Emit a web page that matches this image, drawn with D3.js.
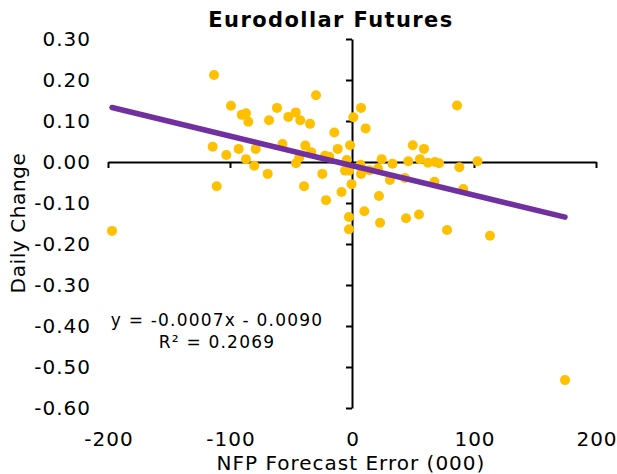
<!DOCTYPE html>
<html>
<head>
<meta charset="utf-8">
<script src="https://cdn.jsdelivr.net/npm/d3@7"></script>
<style>
  body { margin: 0; background: #fff; }
  text { font-family: "DejaVu Sans", Verdana, sans-serif; fill: #000; }
</style>
</head>
<body>
<script>
// NFP forecast error (000) vs daily change in Eurodollar futures
var forecastError = [-196.7, -113.1, -114.2, -110.9, -99.2, -103.0, -92.9, -90.4, -86.9, -85.0,
    -86.9, -78.9, -80.1, -69.1, -68.0, -61.5, -57.0, -52.2, -46.1, -42.4,
    -34.4, -29.5, -38.3, -33.4, -43.2, -45.9, -22.1, -18.6, -14.5, -11.7,
    -1.6, -4.3, -5.7, -2.5, -24.3, -39.3, -21.3, -8.6, -0.4, -2.5,
    -2.5, 1.1, 7.4, 11.2, 7.0, 7.4, 14.3, 21.3, 24.3, 33.2,
    31.1, 43.4, 46.1, 49.8, 59.0, 55.7, 62.3, 68.0, 71.3, 67.6,
    10.1, 22.1, 23.0, 44.3, 54.9, 77.9, 86.1, 88.0, 91.2, 102.9,
    113.1, 174.6];
var dailyChange = [-0.168, 0.212, 0.037, -0.059, 0.137, 0.017, 0.032, 0.115, 0.119, 0.098,
    0.007, 0.032, -0.009, -0.029, 0.102, 0.132, 0.044, 0.110, 0.121, 0.102,
    0.093, 0.163, 0.040, 0.024, 0.011, -0.003, 0.015, 0.013, 0.072, 0.032,
    0.041, 0.005, -0.021, -0.021, -0.029, -0.059, -0.093, -0.073, -0.054, -0.134,
    -0.164, 0.109, 0.132, 0.082, -0.007, -0.029, -0.020, -0.016, 0.007, -0.004,
    -0.044, -0.039, 0.002, 0.041, 0.032, 0.007, -0.002, 0.000, -0.003, -0.048,
    -0.120, -0.083, -0.148, -0.137, -0.128, -0.166, 0.138, -0.013, -0.066, 0.002,
    -0.180, -0.532];

var xTicks = [-200, -100, 0, 100, 200];
var yTicks = [0.3, 0.2, 0.1, 0, -0.1, -0.2, -0.3, -0.4, -0.5, -0.6];
var equationLines = ["y = -0.0007x - 0.0090", "R\u00b2 = 0.2069"];

var width = 617, height = 474;
var svg = d3.select("body").append("svg")
    .attr("width", width)
    .attr("height", height);

var x = d3.scaleLinear().domain([-200, 200]).range([108, 596]);
var y = d3.scaleLinear().domain([-0.6, 0.3]).range([408, 39]);

var points = forecastError.map(function (d, i) {
    return { x: d, y: dailyChange[i] };
});

// least squares trendline
var mx = d3.mean(points, d => d.x), my = d3.mean(points, d => d.y);
var sxy = d3.sum(points, d => (d.x - mx) * (d.y - my));
var sxx = d3.sum(points, d => (d.x - mx) * (d.x - mx));
var slope = sxy / sxx, intercept = my - slope * mx;
var ext = d3.extent(forecastError);

// plain hyphen for negatives, as in the original
var fmtY = d => d3.format(".2f")(d).replace("\u2212", "-");

// x axis through y = 0, ticks pointing down
var xAxis = svg.append("g")
    .attr("transform", "translate(0," + y(0) + ")")
    .call(d3.axisBottom(x).tickValues(xTicks).tickSize(6).tickSizeOuter(0).tickFormat(""));
xAxis.select(".domain").attr("stroke-width", 2);
xAxis.selectAll(".tick line").attr("stroke-width", 2);

// y axis through x = 0, ticks pointing left
var yAxis = svg.append("g")
    .attr("transform", "translate(" + x(0) + ",0)")
    .call(d3.axisLeft(y).tickValues(yTicks).tickSize(6).tickSizeOuter(0).tickFormat(""));
yAxis.select(".domain").attr("stroke-width", 2);
yAxis.selectAll(".tick line").attr("stroke-width", 2);

// tick labels sit at the low end, like Excel
svg.append("g").selectAll("text")
    .data(yTicks)
    .join("text")
    .attr("x", 91)
    .attr("y", d => y(d) + 7)
    .attr("text-anchor", "end")
    .style("font-size", "20px")
    .style("letter-spacing", "1px")
    .text(fmtY);

svg.append("g").selectAll("text")
    .data(xTicks)
    .join("text")
    .attr("x", d => x(d) + 1)
    .attr("y", 446)
    .attr("text-anchor", "middle")
    .style("font-size", "20px")
    .style("letter-spacing", "1px")
    .text(d => String(d));

svg.append("g").selectAll("circle")
    .data(points)
    .join("circle")
    .attr("cx", d => x(d.x))
    .attr("cy", d => y(d.y))
    .attr("r", 5)
    .attr("fill", "#FFC000");

svg.append("line")
    .attr("x1", x(ext[0]))
    .attr("y1", y(slope * ext[0] + intercept))
    .attr("x2", x(ext[1]))
    .attr("y2", y(slope * ext[1] + intercept))
    .attr("stroke", "#7030A0")
    .attr("stroke-width", 5.5)
    .attr("stroke-linecap", "round");

svg.append("g").selectAll("text")
    .data(equationLines)
    .join("text")
    .attr("x", 217)
    .attr("y", (d, i) => 326 + i * 22)
    .attr("text-anchor", "middle")
    .style("font-size", "17px")
    .style("letter-spacing", "1.2px")
    .text(d => d);

svg.append("text")
    .attr("x", 331)
    .attr("y", 27)
    .attr("text-anchor", "middle")
    .style("font-size", "21px")
    .style("font-weight", "bold")
    .style("letter-spacing", "1.4px")
    .text("Eurodollar Futures");

svg.append("text")
    .attr("x", 351)
    .attr("y", 470)
    .attr("text-anchor", "middle")
    .style("font-size", "20px")
    .style("letter-spacing", "1px")
    .text("NFP Forecast Error (000)");

svg.append("text")
    .attr("transform", "translate(25,223) rotate(-90)")
    .attr("text-anchor", "middle")
    .style("font-size", "20px")
    .style("letter-spacing", "0.6px")
    .text("Daily Change");
</script>
</body>
</html>
